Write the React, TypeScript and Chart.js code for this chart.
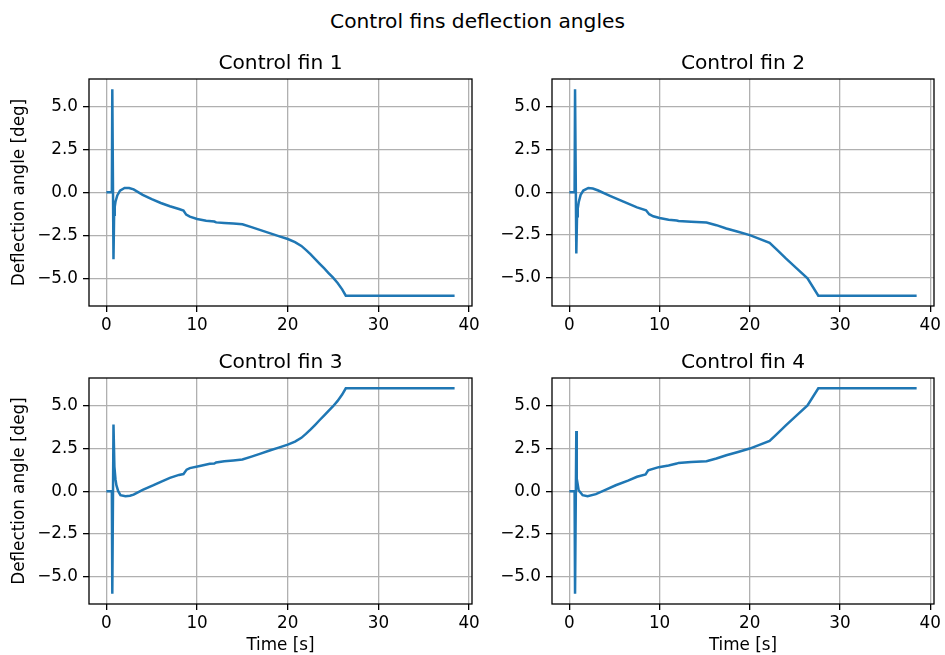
import React, { useEffect, useRef } from "react";
import { Chart, registerables } from "chart.js";

Chart.register(...registerables);

// ---- Data ----
const fin1Time = [0, 0.6, 0.65, 0.78, 0.85, 0.92, 1.0, 1.2, 1.5, 2.0, 2.5, 3.0, 4.0, 5.0, 6.0, 7.0, 8.0, 8.5, 8.8, 9.2, 10, 11, 11.9, 12.1, 13, 14, 15, 16, 17, 18, 19, 20, 20.8, 21.5, 22, 22.5, 23, 23.5, 24, 24.5, 25, 25.5, 26.0, 26.4, 38.4];
const fin1Angle = [0, 0, 6.0, -3.9, -1.3, -0.85, -0.55, -0.18, 0.1, 0.25, 0.25, 0.17, -0.15, -0.4, -0.62, -0.81, -0.97, -1.06, -1.3, -1.42, -1.55, -1.65, -1.7, -1.75, -1.78, -1.81, -1.86, -2.03, -2.2, -2.38, -2.55, -2.72, -2.9, -3.12, -3.35, -3.6, -3.87, -4.15, -4.42, -4.7, -4.97, -5.28, -5.65, -6.02, -6.02];

const fin2Time = [0, 0.58, 0.63, 0.77, 0.85, 0.93, 1.05, 1.25, 1.55, 2.1, 2.6, 3.2, 4.5, 6.0, 7.5, 8.5, 8.85, 9.3, 10.0, 11.0, 11.9, 12.1, 13.5, 15.2, 16.3, 17.4, 18.7, 20.0, 21.0, 22.2, 23.0, 24.0, 25.2, 26.4, 27.6, 38.5];
const fin2Angle = [0, 0, 6.0, -3.57, -1.4, -0.95, -0.55, -0.15, 0.1, 0.25, 0.22, 0.1, -0.21, -0.55, -0.88, -1.05, -1.28, -1.4, -1.5, -1.6, -1.65, -1.68, -1.72, -1.76, -1.92, -2.11, -2.3, -2.5, -2.7, -2.95, -3.35, -3.86, -4.44, -5.02, -6.03, -6.03];

const fin3Time = [0, 0.6, 0.65, 0.78, 0.88, 1.0, 1.1, 1.3, 1.55, 2.1, 2.6, 3.0, 4.0, 5.2, 6.0, 7.0, 8.0, 8.5, 8.85, 9.2, 10.3, 11.4, 11.9, 12.1, 13, 14, 15, 16, 17, 18, 19, 20, 20.8, 21.5, 22, 22.5, 23, 23.5, 24, 24.5, 25, 25.5, 26.0, 26.4, 38.4];
const fin3Angle = [0, 0, -6.0, 3.9, 1.44, 0.7, 0.35, 0.0, -0.23, -0.29, -0.27, -0.2, 0.08, 0.35, 0.55, 0.78, 0.95, 1.0, 1.26, 1.35, 1.47, 1.6, 1.62, 1.68, 1.75, 1.8, 1.85, 2.02, 2.2, 2.38, 2.55, 2.72, 2.9, 3.12, 3.35, 3.6, 3.87, 4.15, 4.42, 4.7, 4.97, 5.28, 5.65, 6.02, 6.02];

const fin4Time = [0, 0.58, 0.63, 0.77, 0.82, 1.03, 1.47, 2.02, 2.94, 4.0, 5.14, 6.5, 7.5, 8.45, 8.74, 9.9, 11.0, 11.9, 12.1, 13.5, 15.2, 16.3, 17.4, 18.7, 20.0, 21.0, 22.2, 23.0, 24.0, 25.2, 26.4, 27.6, 38.5];
const fin4Angle = [0, 0, -6.0, 3.53, 0.74, 0.06, -0.23, -0.29, -0.17, 0.08, 0.35, 0.62, 0.85, 0.99, 1.22, 1.41, 1.51, 1.62, 1.66, 1.71, 1.76, 1.92, 2.11, 2.3, 2.5, 2.7, 2.95, 3.35, 3.86, 4.44, 5.02, 6.03, 6.03];

const xTicks = [0, 10, 20, 30, 40];
const yTicks = [-5, -2.5, 0, 2.5, 5];

const figTitle = "Control fins deflection angles";
const panelTitles = ["Control fin 1", "Control fin 2", "Control fin 3", "Control fin 4"];
const xLabel = "Time [s]";
const yLabel = "Deflection angle [deg]";

const FONT = "'DejaVu Sans', 'Noto Sans', sans-serif";
const LINE_COLOR = "#1f77b4";

type Box = { l: number; t: number; r: number; b: number };

const boxFrame = {
  id: "boxFrame",
  afterDraw(chart: any) {
    const { ctx, chartArea: a } = chart;
    ctx.save();
    ctx.strokeStyle = "#000";
    ctx.lineWidth = 1.3;
    ctx.strokeRect(a.left, a.top, a.right - a.left, a.bottom - a.top);
    ctx.restore();
  },
};

function fmtY(v: number) {
  const s = Math.abs(v).toFixed(1);
  return v < 0 ? "\u2212" + s : s;
}

function Panel(props: {
  time: number[];
  angle: number[];
  box: Box;
  showX: boolean;
  showY: boolean;
}) {
  const { time, angle, box, showX, showY } = props;
  const ref = useRef<HTMLCanvasElement | null>(null);
  const PADL = 89;
  const PADT = 20;
  const PADR = 16;
  const bottomSpace = showX ? 655 - box.b : 45;
  const w = box.r - box.l + PADL + PADR;
  const h = box.b - box.t + PADT + bottomSpace;

  useEffect(() => {
    const tMin = Math.min(...time);
    const tMax = Math.max(...time);
    const aMin = Math.min(...angle);
    const aMax = Math.max(...angle);
    const tm = (tMax - tMin) * 0.05;
    const am = (aMax - aMin) * 0.05;
    const gridCommon = {
      color: "#b0b0b0",
      lineWidth: 1.3,
      drawTicks: true,
      tickLength: 6,
      tickColor: "#000",
      tickWidth: 1.3,
    };
    const chart = new Chart(ref.current as HTMLCanvasElement, {
      type: "line",
      data: {
        datasets: [
          {
            data: time.map((t, i) => ({ x: t, y: angle[i] })),
            borderColor: LINE_COLOR,
            backgroundColor: LINE_COLOR,
            borderWidth: 2.5,
            pointRadius: 0,
            tension: 0,
            fill: false,
          },
        ],
      },
      options: {
        responsive: false,
        animation: false,
        devicePixelRatio: 1,
        layout: { padding: { left: 0, top: PADT, right: PADR, bottom: 0 } },
        plugins: {
          legend: { display: false },
          tooltip: { enabled: false },
          title: { display: false },
        },
        scales: {
          x: {
            type: "linear",
            min: tMin - tm,
            max: tMax + tm,
            afterBuildTicks: (s: any) => {
              s.ticks = xTicks.map((v) => ({ value: v }));
            },
            afterFit: (s: any) => {
              s.height = bottomSpace;
            },
            grid: gridCommon,
            border: { display: false },
            ticks: {
              autoSkip: false,
              maxRotation: 0,
              padding: 3.5,
              color: "#000",
              font: { family: FONT, size: 16.8 },
              callback: (v: any) => String(v),
            },
            title: {
              display: showX,
              text: xLabel,
              color: "#000",
              font: { family: FONT, size: 16.8 },
              padding: { top: 0, bottom: -1 },
            },
          },
          y: {
            type: "linear",
            min: aMin - am,
            max: aMax + am,
            afterBuildTicks: (s: any) => {
              s.ticks = yTicks.map((v) => ({ value: v }));
            },
            afterFit: (s: any) => {
              s.width = PADL;
            },
            grid: gridCommon,
            border: { display: false },
            ticks: {
              autoSkip: false,
              padding: 5,
              color: "#000",
              font: { family: FONT, size: 16.8 },
              callback: (v: any) => fmtY(Number(v)),
            },
            title: {
              display: showY,
              text: yLabel,
              color: "#000",
              font: { family: FONT, size: 16.8 },
              padding: { top: 10, bottom: 0 },
            },
          },
        },
      } as any,
      plugins: [boxFrame],
    });
    return () => chart.destroy();
  }, []);

  return (
    <canvas
      ref={ref}
      width={w}
      height={h}
      style={{
        position: "absolute",
        left: box.l - PADL,
        top: box.t - PADT,
        width: w,
        height: h,
      }}
    />
  );
}

const titleStyle = (centerX: number, baseline: number, size: number): React.CSSProperties => ({
  position: "absolute",
  left: centerX - 300,
  width: 600,
  top: baseline - Math.round(size * 0.94),
  lineHeight: `${Math.round(size * 1.2)}px`,
  fontSize: size,
  fontFamily: FONT,
  color: "#000",
  textAlign: "center",
  whiteSpace: "nowrap",
});

export default function App() {
  const boxes: Box[] = [
    { l: 89, t: 79, r: 472, b: 306 },
    { l: 552, t: 79, r: 934, b: 306 },
    { l: 89, t: 378, r: 472, b: 604 },
    { l: 552, t: 378, r: 934, b: 604 },
  ];
  const series = [
    [fin1Time, fin1Angle],
    [fin2Time, fin2Angle],
    [fin3Time, fin3Angle],
    [fin4Time, fin4Angle],
  ];
  return (
    <div
      style={{
        position: "fixed",
        left: 0,
        top: 0,
        width: 945,
        height: 655,
        overflow: "hidden",
        background: "#fff",
      }}
    >
      {series.map((s, i) => (
        <Panel
          key={i}
          time={s[0]}
          angle={s[1]}
          box={boxes[i]}
          showX={i >= 2}
          showY={i % 2 === 0}
        />
      ))}
      <div style={titleStyle(477.5, 27.5, 20.2)}>{figTitle}</div>
      {panelTitles.map((t, i) => {
        const b = boxes[i];
        return (
          <div key={t} style={titleStyle((b.l + b.r) / 2, b.t - 10, 20.2)}>
            {t}
          </div>
        );
      })}
    </div>
  );
}
